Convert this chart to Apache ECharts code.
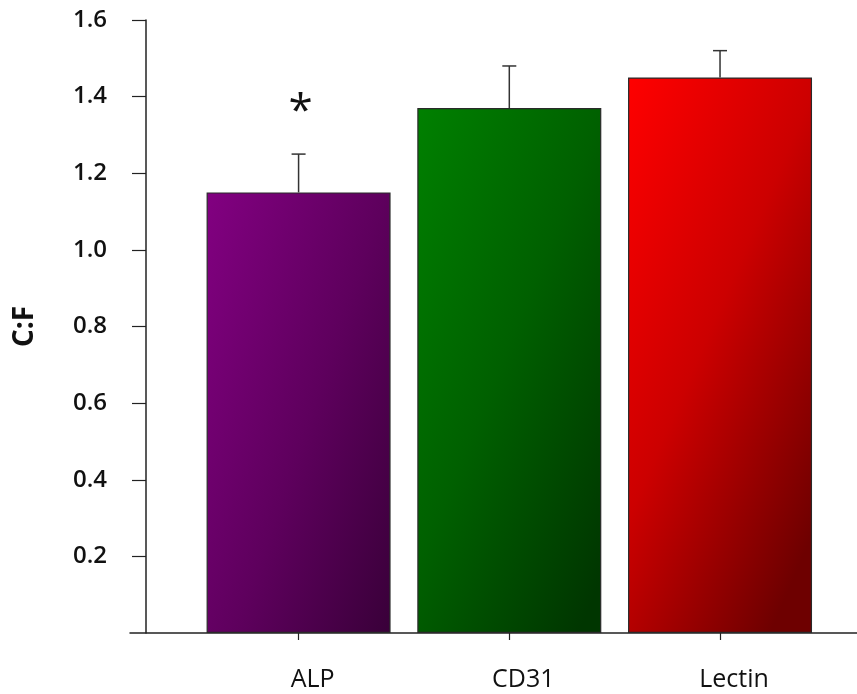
<!DOCTYPE html>
<html>
<head>
<meta charset="utf-8">
<script src="https://cdn.jsdelivr.net/npm/echarts@6/dist/echarts.min.js"></script>
<style>
  html, body { margin: 0; padding: 0; background: #fff; }
  #main { width: 857px; height: 694px; }
</style>
</head>
<body>
<div id="main"></div>
<script>
// data
var categories = ['ALP', 'CD31', 'Lectin'];
var means = [1.15, 1.37, 1.45];
var errs = [0.10, 0.11, 0.07];
var marks = ['*', '', ''];
var yTicks = [0.2, 0.4, 0.6, 0.8, 1.0, 1.2, 1.4, 1.6];

// bar fills: light top-left -> dark bottom-right
var fills = [
  ['#820081', '#5e005d', '#330033'],
  ['#008000', '#006000', '#003600'],
  ['#ff0000', '#cc0000', '#6e0000']
];

var chart = echarts.init(document.getElementById('main'));

function grad(c) {
  return new echarts.graphic.LinearGradient(0, 0, 1.75, 0.25, [
    { offset: 0, color: c[0] },
    { offset: 0.5, color: c[1] },
    { offset: 1, color: c[2] }
  ]);
}

var font = '"Open Sans", "Noto Sans", sans-serif';

var option = {
  animation: false,
  backgroundColor: '#fff',
  grid: { left: 130, right: 0, top: 20, bottom: 61 },
  xAxis: {
    type: 'value',
    min: -0.8,
    max: 2.65,
    splitLine: { show: false },
    axisLine: { show: true, onZero: false, lineStyle: { color: '#222', width: 1.5 } },
    axisTick: { show: true, length: 7, lineStyle: { color: '#222', width: 1.2 }, customValues: [0, 1, 2] },
    axisLabel: {
      customValues: [0, 1, 2],
      formatter: function (v) { return categories[Math.round(v)]; },
      margin: 34,
      padding: [0, 0, 0, 28],
      fontSize: 25,
      fontFamily: font,
      color: '#111'
    }
  },
  yAxis: {
    type: 'value',
    min: 0,
    max: 1.6,
    interval: 0.2,
    offset: -16,
    name: 'C:F',
    nameLocation: 'middle',
    nameRotate: 90,
    nameGap: 107,
    nameTextStyle: { fontSize: 28, fontWeight: 'bold', fontFamily: font, color: '#111' },
    splitLine: { show: false },
    axisLine: { show: true, onZero: false, lineStyle: { color: '#222', width: 1.5 } },
    axisTick: { show: true, length: 14, lineStyle: { color: '#222', width: 1.2 } },
    axisLabel: {
      showMinLabel: false,
      margin: 39,
      fontSize: 24,
      fontWeight: 600,
      fontFamily: font,
      color: '#111',
      formatter: function (v) { return yTicks.indexOf(+v.toFixed(1)) >= 0 ? v.toFixed(1) : ''; }
    }
  },
  series: [
    {
      type: 'bar',
      barWidth: 184,
      z: 2,
      data: means.map(function (m, i) {
        return {
          value: [i, m],
          itemStyle: { color: grad(fills[i]), borderColor: '#2a2a2a', borderWidth: 1.2 }
        };
      })
    },
    {
      type: 'custom',
      z: 3,
      data: means.map(function (m, i) { return [i, m, errs[i]]; }),
      renderItem: function (params, api) {
        var i = api.value(0);
        var base = api.coord([i, api.value(1)]);
        var top = api.coord([i, api.value(1) + api.value(2)]);
        var style = { stroke: '#333', lineWidth: 1.5 };
        var kids = [
          { type: 'line', shape: { x1: base[0], y1: base[1], x2: top[0], y2: top[1] }, style: style },
          { type: 'line', shape: { x1: top[0] - 7, y1: top[1], x2: top[0] + 7, y2: top[1] }, style: style }
        ];
        if (marks[i]) {
          kids.push({
            type: 'text',
            style: {
              text: marks[i], x: top[0] + 2, y: top[1] - 42,
              align: 'center', verticalAlign: 'middle',
              fontSize: 44, fontFamily: font, fill: '#111'
            }
          });
        }
        return { type: 'group', children: kids };
      }
    }
  ]
};

chart.setOption(option);
</script>
</body>
</html>
